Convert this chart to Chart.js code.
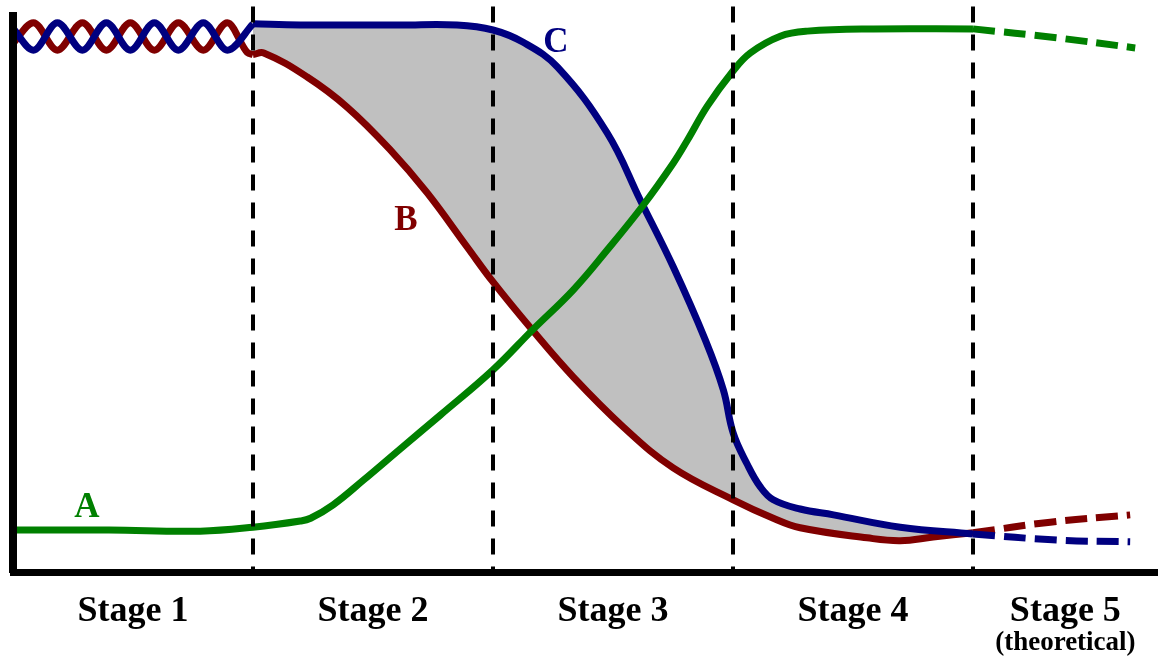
<!DOCTYPE html>
<html>
<head>
<meta charset="utf-8">
<title>Stages</title>
<script src="https://cdn.jsdelivr.net/npm/chart.js@4.4.0/dist/chart.umd.min.js"></script>
<style>
  html, body { margin: 0; padding: 0; background: #fff; }
  #chart { display: block; }
</style>
</head>
<body>
<canvas id="chart" width="1158" height="658"></canvas>
<script>
// ── Data (x: 0..477, stage boundaries every 100; y: 0..~99) ─────────────
const stageLabels  = ['Stage 1', 'Stage 2', 'Stage 3', 'Stage 4', 'Stage 5'];
const stageCenters = [50, 150, 250, 350, 438.5];
const stageBounds  = [100, 200, 300, 400];
const stageNote    = '(theoretical)';

// stage 1: the two braided curves
const braidC = [[0,97.1],[8.5,93.2],[18.5,98.1],[28.9,93.2],[38.9,98.1],[48.9,93.2],[58.9,98.1],[68.9,93.2],[79.3,98.1],[89.3,93.2],[100,97.9]];
const braidB = [[0,94.4],[8.5,98.1],[18.5,93.2],[28.9,98.1],[38.9,93.2],[48.9,98.1],[58.9,93.2],[68.9,98.1],[79.3,93.2],[89.3,98.1],[97.6,92.8],[100,92.4]];

// stages 2-4
const curveA = [[0,7.5],[40,7.5],[78,7.3],[100,8.0],[119.7,9.1],[124,9.6],[133.4,12.0],[146,16.4],[161.4,22.0],[178,28.0],[200,36.1],[216.4,43.2],[233.5,50.4],[247.6,57.5],[262.6,65.5],[275.1,73.0],[281,77.1],[289.3,83.2],[299.7,89.3],[307.2,92.7],[319.7,95.7],[331,96.6],[358.4,97.0],[400,97.0]];
const curveB = [[100,92.4],[104.5,92.7],[122.6,88.4],[139.3,83.0],[157.2,75.4],[172.6,67.7],[189.3,58.0],[200,51.8],[216.4,43.2],[233.5,34.8],[254.3,25.9],[275.1,18.6],[300.1,12.9],[316.8,9.6],[328,7.9],[355.9,6.1],[369.7,5.6],[383.4,6.25],[400,7.0]];
const curveC = [[100,97.9],[119.7,97.7],[161.4,97.7],[185,97.7],[200,96.8],[212.6,94.6],[226.8,90.2],[247.6,78.4],[261.4,66.4],[275.1,54.5],[288.5,41.4],[296,32.5],[300.1,24.8],[306,19.2],[311.4,15.2],[316.8,12.9],[328,11.25],[341.9,10.2],[369.7,8.0],[400,6.8]];

// stage 5 (dashed)
const dashA = [[400,97.0],[435,95.4],[467.6,93.6]];
const dashB = [[400,7.0],[432.2,8.9],[465.5,10.2]];
const dashC = [[400,6.8],[435,5.7],[465.5,5.4]];

// curve names: [text, x, y(baseline)]
const seriesNames = [['A', 30.8, 9.8], ['B', 163.75, 61.1], ['C', 226.25, 92.9]];

const GREEN = '#008000', RED = '#800000', BLUE = '#000080';
const SERIF = '"Liberation Serif", "Times New Roman", serif';
const X_MAX = 477.1, Y_MAX = 99.3;

function lineSet(label, points, color, order, extra) {
    return Object.assign({
        label: label,
        data: points.map(p => ({ x: p[0], y: p[1] })),
        borderColor: color,
        borderWidth: 7,
        pointRadius: 0,
        pointHoverRadius: 0,
        tension: 0.4,
        borderJoinStyle: 'round',
        fill: false,
        order: order
    }, extra || {});
}

// ── Plugins: dashed stage dividers, curve names, stage 5 note ────────────
const stageLines = {
    id: 'stageLines',
    afterDatasetsDraw(chart) {
        const { ctx, scales: { x, y } } = chart;
        ctx.save();
        ctx.strokeStyle = '#000';
        ctx.lineWidth = 4;
        ctx.setLineDash([16, 12]);
        stageBounds.forEach(v => {
            const px = Math.round(x.getPixelForValue(v));
            ctx.beginPath();
            ctx.moveTo(px, y.getPixelForValue(101));
            ctx.lineTo(px, y.getPixelForValue(0));
            ctx.stroke();
        });
        ctx.restore();
    }
};

const curveNames = {
    id: 'curveNames',
    afterDatasetsDraw(chart) {
        const { ctx, scales: { x, y } } = chart;
        const colors = { A: GREEN, B: RED, C: BLUE };
        ctx.save();
        ctx.font = 'bold 35px ' + SERIF;
        ctx.textAlign = 'center';
        ctx.textBaseline = 'alphabetic';
        seriesNames.forEach(([t, vx, vy]) => {
            ctx.fillStyle = colors[t];
            ctx.fillText(t, x.getPixelForValue(vx), y.getPixelForValue(vy));
        });
        // second line under "Stage 5"
        ctx.fillStyle = '#000';
        ctx.font = 'bold 27px ' + SERIF;
        ctx.fillText(stageNote, x.getPixelForValue(stageCenters[4]), chart.chartArea.bottom + 78);
        ctx.restore();
    }
};

// ── Chart ────────────────────────────────────────────────────────────────
const chart = new Chart(document.getElementById('chart').getContext('2d'), {
    type: 'line',
    data: {
        datasets: [
            lineSet('A', curveA, GREEN, 0),
            lineSet('A stage 5', dashA, GREEN, 1, { borderDash: [22, 9] }),
            lineSet('C', curveC, BLUE, 2, { fill: 5, backgroundColor: '#c0c0c0' }),
            lineSet('C stage 1', braidC, BLUE, 3, { cubicInterpolationMode: 'monotone' }),
            lineSet('C stage 5', dashC, BLUE, 4, { borderDash: [22, 9] }),
            lineSet('B', curveB, RED, 5),
            lineSet('B stage 1', braidB, RED, 6, { cubicInterpolationMode: 'monotone' }),
            lineSet('B stage 5', dashB, RED, 7, { borderDash: [22, 9] })
        ]
    },
    options: {
        responsive: false,
        animation: false,
        events: [],
        layout: { padding: { left: 13, right: 0, top: 16, bottom: 0 } },
        plugins: {
            legend: { display: false },
            tooltip: { enabled: false },
            filler: { drawTime: 'beforeDatasetsDraw' }
        },
        scales: {
            x: {
                type: 'linear',
                min: 0,
                max: X_MAX,
                grid: { display: false, drawTicks: false },
                border: { display: true, color: '#000', width: 7, z: 1 },
                ticks: {
                    autoSkip: false,
                    maxRotation: 0,
                    padding: 18,
                    color: '#000',
                    font: { family: SERIF, size: 36, weight: 'bold' },
                    callback: (v) => stageLabels[stageCenters.indexOf(v)]
                },
                afterBuildTicks: (scale) => { scale.ticks = stageCenters.map(v => ({ value: v })); },
                afterFit: (scale) => { scale.height = 86; }
            },
            y: {
                min: 0,
                max: Y_MAX,
                grid: { display: false, drawTicks: false },
                border: { display: true, color: '#000', width: 8, z: 1 },
                ticks: { display: false }
            }
        }
    },
    plugins: [stageLines, curveNames]
});
</script>
</body>
</html>
